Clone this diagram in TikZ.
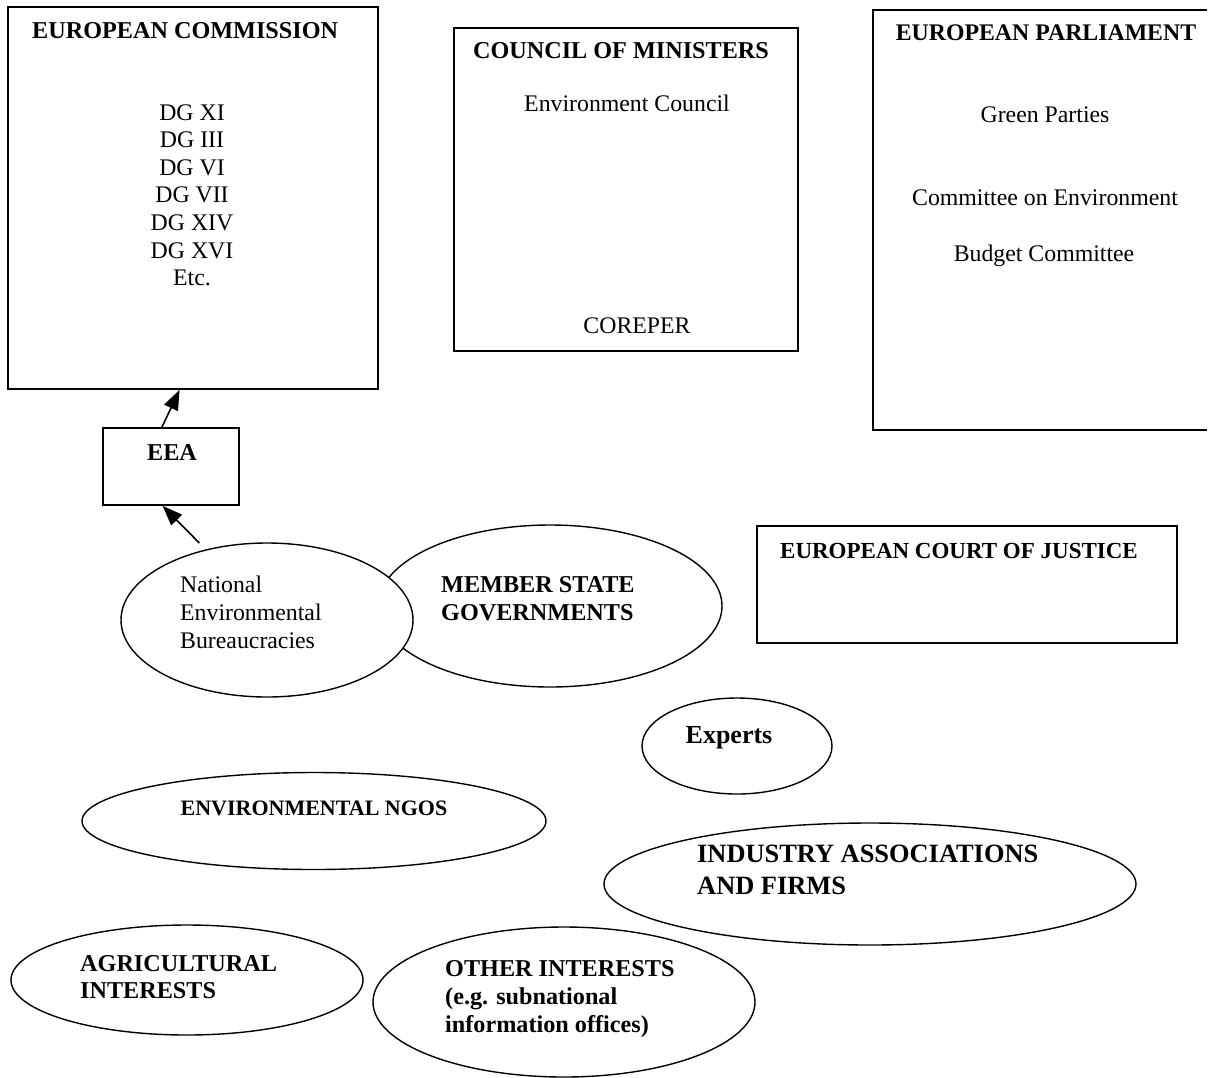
\documentclass[tikz,border=0pt]{standalone}
\usepackage{fontspec}
\setmainfont{Liberation Serif}
\usetikzlibrary{arrows.meta,shapes.geometric}
\begin{document}
\begin{tikzpicture}[x=1pt,y=-1pt,
  box/.style={draw, line width=1.7pt, rectangle, inner sep=0pt},
  ell/.style={draw, line width=1.4pt, ellipse, inner sep=0pt, fill=white},
  tr/.style={font=\fontsize{23.8}{28}\selectfont, inner sep=0pt},
  tb/.style={font=\fontsize{24.2}{28}\selectfont\bfseries, inner sep=0pt},
  arr/.style={line width=1.6pt, -{Triangle[length=20pt,width=15pt]}}]
\useasboundingbox (0,0) rectangle (1208,1077);

% ---------------- European Commission
\node[box, minimum width=370pt, minimum height=382pt] (ec) at (193,198) {};
\node[tb, anchor=base west] (ect) at (32,38) {EUROPEAN COMMISSION};
\node[tr, anchor=base] (dg1) at (192,120) {DG XI};
\node[tr, anchor=base] (dg2) at (192,147.6) {DG III};
\node[tr, anchor=base] (dg3) at (192,175.2) {DG VI};
\node[tr, anchor=base] (dg4) at (192,202.8) {DG VII};
\node[tr, anchor=base] (dg5) at (192,230.4) {DG XIV};
\node[tr, anchor=base] (dg6) at (192,258) {DG XVI};
\node[tr, anchor=base] (dg7) at (192,285.6) {Etc.};

% ---------------- Council of Ministers
\node[box, minimum width=344pt, minimum height=323pt] (cm) at (626,189.5) {};
\node[tb, anchor=base] (cmt) at (621,58) {COUNCIL OF MINISTERS};
\node[tr, anchor=base] (cm1) at (627,111) {Environment Council};
\node[tr, anchor=base] (cm2) at (637,333) {COREPER};

% ---------------- European Parliament (right side cut by page edge)
\node[rectangle, inner sep=0pt, minimum width=334pt, minimum height=420pt] (ep) at (1040,220) {};
\draw[line width=1.7pt] (ep.north east) -- (ep.north west) -- (ep.south west) -- (ep.south east);
\node[tb, anchor=base, font=\fontsize{23.8}{28}\selectfont\bfseries] (ept) at (1046,40) {EUROPEAN PARLIAMENT};
\node[tr, anchor=base] (ep1) at (1045,122) {Green Parties};
\node[tr, anchor=base] (ep2) at (1045,205) {Committee on Environment};
\node[tr, anchor=base] (ep3) at (1044,261) {Budget Committee};

% ---------------- European Court of Justice
\node[box, minimum width=420pt, minimum height=117pt] (ecj) at (967,584.5) {};
\node[tb, anchor=base, font=\fontsize{23}{28}\selectfont\bfseries] (ecjt) at (959,558) {EUROPEAN COURT OF JUSTICE};

% ---------------- EEA
\node[box, minimum width=136pt, minimum height=77pt] (eea) at (171,466.5) {};
\node[tb, anchor=base] (eeat) at (172,460) {EEA};

% ---------------- Ellipses
\node[ell, minimum width=344pt, minimum height=162pt] (msg) at (550,606) {};
\node[ell, minimum width=292pt, minimum height=154pt] (nat) at (267,620) {};
\node[tr, anchor=base west] (nat1) at (180,592) {National};
\node[tr, anchor=base west] (nat2) at (180,620) {Environmental};
\node[tr, anchor=base west] (nat3) at (180,648) {Bureaucracies};
\node[tb, anchor=base west] (msg1) at (441,592) {MEMBER STATE};
\node[tb, anchor=base west] (msg2) at (441,620) {GOVERNMENTS};

\node[ell, minimum width=190pt, minimum height=96pt] (exp) at (737,746) {};
\node[tb, anchor=base, font=\fontsize{26}{30}\selectfont\bfseries] (expt) at (729,743) {Experts};

\node[ell, minimum width=464pt, minimum height=97pt] (ngo) at (314,821) {};
\node[tb, anchor=base, font=\fontsize{22}{26}\selectfont\bfseries] (ngot) at (314,815) {ENVIRONMENTAL NGOS};

\node[ell, minimum width=532pt, minimum height=122pt] (ind) at (870,884) {};
\node[tb, anchor=base west, font=\fontsize{26.4}{30}\selectfont\bfseries] (ind1) at (697,862) {INDUSTRY ASSOCIATIONS};
\node[tb, anchor=base west, font=\fontsize{26.4}{30}\selectfont\bfseries] (ind2) at (697,894) {AND FIRMS};

\node[ell, minimum width=352pt, minimum height=110pt] (agr) at (187,980) {};
\node[tb, anchor=base west] (agr1) at (80,971) {AGRICULTURAL};
\node[tb, anchor=base west] (agr2) at (80,998) {INTERESTS};

\node[ell, minimum width=382pt, minimum height=150pt] (oth) at (564,1002) {};
\node[tb, anchor=base west] (oth1) at (445,976) {OTHER INTERESTS};
\node[tb, anchor=base west] (oth2) at (445,1004) {(e.g. subnational};
\node[tb, anchor=base west] (oth3) at (445,1032) {information offices)};

% ---------------- Arrows
\draw[arr] (eea.103) -- (ec.266);
\draw[arr, shorten <=9pt] (nat.131) -- (eea.258);
\end{tikzpicture}
\end{document}
